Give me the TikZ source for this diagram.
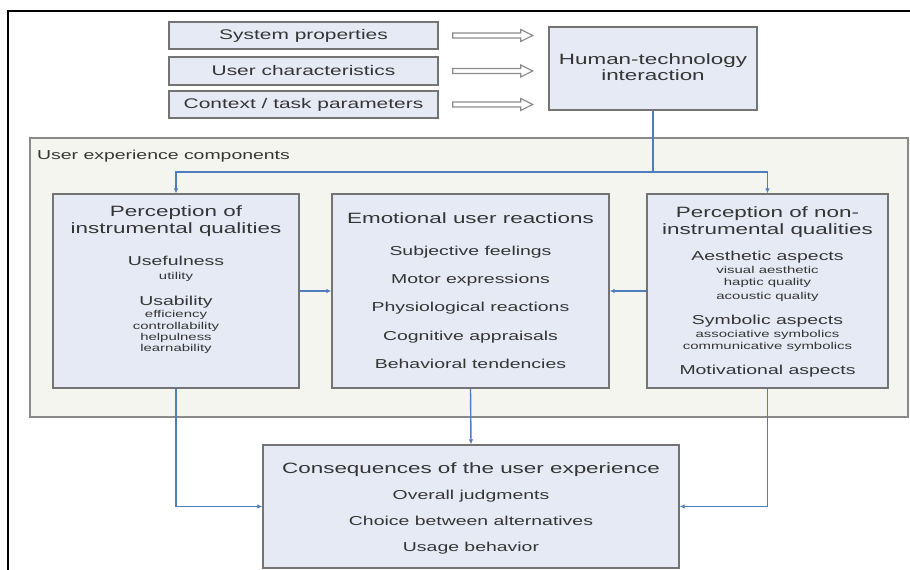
\documentclass[tikz,border=0pt]{standalone}
\usepackage{fontspec}
\setmainfont{Liberation Sans}[FakeStretch=1.5]
\usetikzlibrary{arrows.meta,calc}

\definecolor{boxfill}{HTML}{E5EAF4}
\definecolor{boxline}{HTML}{747474}
\definecolor{groupfill}{HTML}{F4F5EF}
\definecolor{groupline}{HTML}{8A8A8A}
\definecolor{linkblue}{HTML}{4F7DBE}
\definecolor{inktext}{HTML}{353535}
\definecolor{hollowline}{HTML}{8C8C8C}

\newcommand\setfs[1]{\fontsize{#1}{#1}\selectfont}

\tikzset{
  box/.style={draw=boxline, fill=boxfill, line width=1.3bp, inner sep=0pt},
  txt/.style={text=inktext, inner sep=0pt, anchor=base},
  hdr/.style={txt, font=\setfs{15}},
  itm/.style={txt, font=\setfs{13}},
  sub/.style={txt, font=\setfs{10}},
  link/.style={draw=linkblue, line width=1.4bp},
  linkarrow/.style={link, -{Latex[length=5bp,width=4.5bp]}},
  hollow/.style={draw=hollowline, fill=white, line width=1.2bp, line join=miter},
}

\newcommand\hollowarrow[1]{%
  \draw[hollow] ($(#1.east)+(14,-2.5)$) -- ++(68,0) -- ++(0,-3.5) -- ++(12,6)
    -- ++(-12,6) -- ++(0,-3.5) -- ++(-68,0) -- cycle;}

\begin{document}
\begin{tikzpicture}[x=1bp,y=-1bp]
\useasboundingbox (0,0) rectangle (910,570);
\clip (0,0) rectangle (910,570);
\fill[white] (0,0) rectangle (910,570);

% outer frame (runs off the right and bottom edges)
\draw[line width=2.4bp, black] (8,580) -- (8,11) -- (920,11);

% input boxes
\node[box, minimum width=269bp, minimum height=27bp] (sys) at (303.5,35.5) {};
\node[box, minimum width=269bp, minimum height=28bp] (usr) at (303.5,71) {};
\node[box, minimum width=269bp, minimum height=27bp] (ctx) at (303.5,104.5) {};
\node[txt, font=\setfs{14}] (systxt) at (303.5,39.5) {System properties};
\node[txt, font=\setfs{14}] (usrtxt) at (303.5,75.5) {User characteristics};
\node[txt, font=\setfs{14}] (ctxtxt) at (303.5,109) {Context / task parameters};

% interaction box
\node[box, minimum width=208bp, minimum height=83bp] (hti) at (653,68.5) {};
\node[hdr] (hti1) at (653,64.5) {Human-technology};
\node[hdr] (hti2) at (653,81) {interaction};

% hollow arrows into the interaction box
\hollowarrow{sys}
\hollowarrow{usr}
\hollowarrow{ctx}

% user experience components group
\node[draw=groupline, fill=groupfill, line width=1.3bp, inner sep=0pt,
      minimum width=878bp, minimum height=279bp] (ux) at (469,277.5) {};
\node[txt, font=\setfs{13}, anchor=base west] (uxlabel) at (37,159.5) {User experience components};

% the three component boxes
\node[box, minimum width=246bp, minimum height=194bp] (left) at (176,291) {};
\node[box, minimum width=277bp, minimum height=194bp] (mid) at (470.5,291) {};
\node[box, minimum width=241bp, minimum height=194bp] (right) at (767.5,291) {};

% instrumental qualities
\node[hdr] (l1) at (176,217) {Perception of};
\node[hdr] (l2) at (176,234) {instrumental qualities};
\node[itm] (l3) at (176,265.5) {Usefulness};
\node[sub] (l4) at (176,279) {utility};
\node[itm] (l5) at (176,305.5) {Usability};
\node[sub] (l6) at (176,317) {efficiency};
\node[sub] (l7) at (176,329) {controllability};
\node[sub] (l8) at (176,340) {helpulness};
\node[sub] (l9) at (176,351) {learnability};

% emotional reactions
\node[hdr] (m0) at (470.5,224) {Emotional user reactions};
\foreach \t/\y [count=\i] in {Subjective feelings/255.5, Motor expressions/283.5,
    Physiological reactions/311.5, Cognitive appraisals/340, Behavioral tendencies/368}
  \node[itm] (m\i) at (470.5,\y) {\t};

% non-instrumental qualities
\node[hdr] (r1) at (767.5,218) {Perception of non-};
\node[hdr] (r2) at (767.5,235) {instrumental qualities};
\node[itm] (r3) at (767.5,261) {Aesthetic aspects};
\node[sub] (r4) at (767.5,273) {visual aesthetic};
\node[sub] (r5) at (767.5,285.5) {haptic quality};
\node[sub] (r6) at (767.5,299) {acoustic quality};
\node[itm] (r7) at (767.5,324) {Symbolic aspects};
\node[sub] (r8) at (767.5,337) {associative symbolics};
\node[sub] (r9) at (767.5,349) {communicative symbolics};
\node[itm] (r10) at (767.5,374) {Motivational aspects};

% consequences
\node[box, minimum width=416bp, minimum height=123bp] (cons) at (471,506.5) {};
\node[hdr] (c0) at (471,473) {Consequences of the user experience};
\node[itm] (c1) at (471,499.5) {Overall judgments};
\node[itm] (c2) at (471,525.5) {Choice between alternatives};
\node[itm] (c3) at (471,551.5) {Usage behavior};

% connectors
\coordinate (splitrow) at (0,172);
\coordinate (split) at (hti.south |- splitrow);
\draw[link] (hti.south) -- (split);
\draw[linkarrow] (split) -| (left.north);
\draw[linkarrow] (split) -| (right.north);
\draw[linkarrow] (left.east) -- (mid.west);
\draw[linkarrow] (right.west) -- (mid.east);
\draw[linkarrow] (mid.south) -- (cons.north);
\draw[linkarrow] (left.south) |- (cons.west);
\draw[linkarrow] (right.south) |- (cons.east);
\end{tikzpicture}
\end{document}
